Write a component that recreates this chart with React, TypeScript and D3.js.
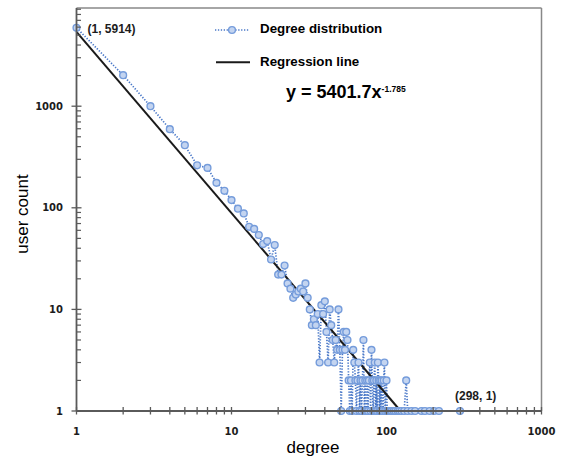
import React from "react";
import * as d3 from "d3";

const degrees = [
  1, 2, 3, 4, 5, 6, 7, 8, 9, 10, 11, 12, 13, 14, 15, 16, 17, 18, 19, 20,
  21, 22, 23, 24, 25, 26, 27, 28, 29, 30, 31, 32, 33, 34, 35, 36, 37, 38, 39, 40,
  41, 42, 43, 44, 45, 46, 47, 48, 49, 50, 51, 52, 53, 54, 55, 56, 57, 58, 59, 60,
  61, 62, 63, 64, 65, 66, 67, 68, 69, 70, 71, 72, 73, 74, 75, 76, 77, 78, 79, 80,
  81, 82, 83, 84, 85, 86, 87, 88, 89, 90, 91, 92, 93, 95, 96, 97, 98, 100, 101, 103,
  106, 108, 111, 114, 118, 121, 125, 130, 134, 137, 145, 153, 168, 177, 190, 203, 218, 298,
];
const userCounts = [
  5914, 2020, 1000, 594, 413, 262, 247, 176, 147, 119, 98, 88, 65, 62, 54, 44, 47, 31, 43, 22,
  22, 27, 18, 16, 13, 14, 15, 16, 15, 18, 13, 10, 7, 8, 7, 9, 3, 11, 9, 12,
  6, 3, 10, 7, 5, 3, 5, 4, 10, 4, 1, 4, 6, 4, 6, 5, 2, 1, 2, 1,
  4, 3, 2, 1, 2, 3, 1, 2, 1, 2, 5, 1, 2, 1, 2, 1, 2, 3, 1, 4,
  2, 1, 2, 3, 1, 2, 1, 3, 2, 1, 2, 1, 2, 1, 2, 3, 1, 2, 1, 1,
  1, 1, 1, 1, 1, 1, 1, 1, 2, 1, 1, 1, 1, 1, 1, 1, 1, 1,
];
const regDegrees = [1, 123.3];
const regCounts = [5401.7, 1];

const xTickValues = [1, 10, 100, 1000];
const yTickValues = [1, 10, 100, 1000];
const xTickLabels = ["1", "10", "100", "1000"];
const yTickLabels = ["1", "10", "100", "1000"];
const legendLabels = ["Degree distribution", "Regression line"];
const equationMain = "y = 5401.7x";
const equationExp = "-1.785";
const firstLabel = "(1, 5914)";
const lastLabel = "(298, 1)";

export default function App() {
  const W = 561, H = 458;
  const left = 76.5, right = 541.5, bottom = 411, top = 8;
  const x = d3.scaleLog().domain([1, 1000]).range([left, right]);
  const y = d3.scaleLog().domain([1, 10000]).range([bottom, 4.6]);

  const pts = degrees.map((d, i) => [d, userCounts[i]] as [number, number]);
  const line = d3.line<[number, number]>().x((d) => x(d[0])).y((d) => y(d[1]));
  const regPts = regDegrees.map((d, i) => [d, regCounts[i]] as [number, number]);

  const xMinor: number[] = [];
  [1, 10, 100].forEach((dec) => {
    for (let k = 2; k <= 9; k++) xMinor.push(dec * k);
  });
  const yMinor: number[] = [];
  [1, 10, 100, 1000].forEach((dec) => {
    for (let k = 2; k <= 9; k++) {
      const v = dec * k;
      if (y(v) >= top) yMinor.push(v);
    }
  });

  const axisColor = "#5a5a5a";
  const tickFont = "'DejaVu Sans', Verdana, sans-serif";
  const arial = "'Liberation Sans', Arial, sans-serif";
  const markerFill = "#c3d4f0";
  const markerStroke = "#759cdb";
  const lineBlue = "#4a78c8";

  return (
    <svg width={W} height={H} style={{ position: "absolute", left: 0, top: 0, background: "#fff" }}>
      <rect x={0} y={0} width={W} height={H} fill="#fff" />
      <line x1={left} y1={top} x2={right} y2={top} stroke="#888" strokeWidth={1.5} />
      <line x1={right} y1={top} x2={right} y2={bottom} stroke="#888" strokeWidth={1.5} />

      <path d={line(pts) || ""} fill="none" stroke={lineBlue} strokeWidth={1.7} strokeDasharray="1.3 1.6" />
      <path d={line(regPts) || ""} fill="none" stroke="#1a1a1a" strokeWidth={2} />
      {pts.map((p, i) => (
        <circle key={i} cx={x(p[0])} cy={y(p[1])} r={3.4} fill={markerFill} stroke={markerStroke} strokeWidth={1.4} />
      ))}

      <line x1={left} y1={top} x2={left} y2={bottom} stroke={axisColor} strokeWidth={1.8} />
      <line x1={left} y1={bottom} x2={right} y2={bottom} stroke={axisColor} strokeWidth={1.8} />
      {xMinor.concat(xTickValues).map((v, i) => (
        <line key={"xt" + i} x1={x(v)} x2={x(v)} y1={bottom - 4} y2={bottom + 3.5} stroke={axisColor} strokeWidth={1.3} />
      ))}
      {yMinor.map((v, i) => (
        <line key={"ym" + i} x1={left} x2={left + 4.5} y1={y(v)} y2={y(v)} stroke={axisColor} strokeWidth={1.2} />
      ))}
      {yTickValues.map((v, i) => (
        <line key={"yM" + i} x1={left - 5} x2={left + 5} y1={y(v)} y2={y(v)} stroke={axisColor} strokeWidth={1.3} />
      ))}
      {xTickValues.map((v, i) => (
        <text key={"xl" + i} x={x(v)} y={435} textAnchor="middle" fontFamily={tickFont} fontWeight="bold" fontSize={10} fill="#1c1c1c">
          {xTickLabels[i]}
        </text>
      ))}
      {yTickValues.map((v, i) => (
        <text key={"yl" + i} x={63} y={y(v)} dy="0.36em" textAnchor="end" fontFamily={tickFont} fontWeight="bold" fontSize={10} fill="#1c1c1c">
          {yTickLabels[i]}
        </text>
      ))}

      <text x={313} y={453} textAnchor="middle" fontFamily={arial} fontSize={17} fill="#000">degree</text>
      <text transform="translate(28,214) rotate(-90)" textAnchor="middle" fontFamily={arial} fontSize={17} fill="#000">user count</text>

      <line x1={215} x2={249} y1={30} y2={30} stroke={lineBlue} strokeWidth={1.7} strokeDasharray="1.3 1.6" />
      <circle cx={232} cy={30} r={3.4} fill={markerFill} stroke={markerStroke} strokeWidth={1.4} />
      <text x={260} y={33.3} fontFamily={arial} fontWeight="bold" fontSize={13.33} fill="#000">{legendLabels[0]}</text>
      <line x1={216} x2={250} y1={62.3} y2={62.3} stroke="#1a1a1a" strokeWidth={2} />
      <text x={260} y={65.7} fontFamily={arial} fontWeight="bold" fontSize={13.33} fill="#000">{legendLabels[1]}</text>

      <text x={286} y={98} fontFamily={arial} fontWeight="bold" fontSize={18} fill="#000">
        {equationMain}
        <tspan fontSize={8.5} dy={-6}>{equationExp}</tspan>
      </text>

      <text x={87.5} y={32.5} fontFamily={arial} fontWeight="bold" fontSize={12} fill="#1c1c1c">{firstLabel}</text>
      <text x={455} y={400} fontFamily={arial} fontWeight="bold" fontSize={12} fill="#1c1c1c">{lastLabel}</text>
    </svg>
  );
}
